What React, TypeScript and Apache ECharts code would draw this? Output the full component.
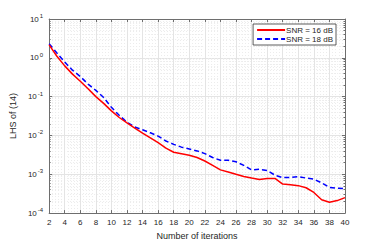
import React, { useEffect, useRef } from "react";
import * as echarts from "echarts";

const iterations = [2, 3, 4, 5, 6, 7, 8, 9, 10, 11, 12, 13, 14, 15, 16, 17, 18, 19, 20, 21, 22, 23, 24, 25, 26, 27, 28, 29, 30, 31, 32, 33, 34, 35, 36, 37, 38, 39, 40];
const snr16 = [2.15, 1.1, 0.62, 0.38, 0.25, 0.16, 0.1, 0.067, 0.043, 0.029, 0.021, 0.0155, 0.0115, 0.0087, 0.0065, 0.0047, 0.0037, 0.0034, 0.0031, 0.0027, 0.0022, 0.0017, 0.0013, 0.00115, 0.001, 0.00088, 0.0008, 0.00073, 0.00078, 0.00078, 0.00056, 0.00054, 0.00051, 0.00045, 0.00034, 0.00022, 0.00019, 0.00021, 0.00025];
const snr18 = [2.3, 1.33, 0.78, 0.48, 0.33, 0.21, 0.145, 0.095, 0.053, 0.033, 0.022, 0.0165, 0.014, 0.0117, 0.0096, 0.0072, 0.0059, 0.005, 0.0045, 0.004, 0.0034, 0.0027, 0.0023, 0.0023, 0.0021, 0.0017, 0.0013, 0.00135, 0.00125, 0.00095, 0.00082, 0.00083, 0.00087, 0.0008, 0.00075, 0.0006, 0.00046, 0.00044, 0.00043];
const seriesNames = ["SNR = 16 dB", "SNR = 18 dB"];
const xLabel = "Number of iterations";
const yLabel = "LHS of (14)";

const FONT = "'Liberation Sans', Arial, sans-serif";
const TEXT = "#262626";
const AXIS = "#6e6e6e";
const GRID = "#e4e4e4";

export default function App() {
  const ref = useRef<HTMLDivElement>(null);
  useEffect(() => {
    if (!ref.current) return;
    const chart = echarts.init(ref.current, null, { renderer: "svg" });
    const xCommon = {
      type: "value" as const,
      min: 2,
      max: 40,
      interval: 2,
      axisLine: { show: true, onZero: false, lineStyle: { color: AXIS, width: 1 } },
      axisTick: { show: true, inside: true, length: 3, lineStyle: { color: AXIS } },
    };
    const yCommon = {
      type: "log" as const,
      logBase: 10,
      min: 1e-4,
      max: 10,
      axisLine: { show: true, lineStyle: { color: AXIS, width: 1 } },
      axisTick: { show: true, inside: true, length: 3, lineStyle: { color: AXIS } },
      minorTick: { show: true, splitNumber: 9, length: 1.5, lineStyle: { color: AXIS } },
    };
    chart.setOption({
      animation: false,
      textStyle: { fontFamily: FONT },
      grid: { left: 49, top: 19, right: 37, bottom: 27, containLabel: false },
      legend: {
        orient: "vertical",
        right: 46,
        top: 24,
        itemWidth: 28,
        itemHeight: 8,
        itemGap: 1,
        padding: [2, 3, 2, 3],
        borderColor: "#333",
        borderWidth: 0.8,
        backgroundColor: "#fff",
        itemStyle: { opacity: 0 },
        textStyle: { fontSize: 8, color: TEXT, fontFamily: FONT, padding: [0, 0, 0, -4] },
        data: seriesNames,
      },
      xAxis: [
        {
          ...xCommon,
          position: "bottom",
          name: xLabel,
          nameLocation: "middle",
          nameGap: 15,
          nameTextStyle: { fontSize: 9, color: TEXT, fontFamily: FONT },
          axisLabel: { fontSize: 8, color: TEXT, margin: 5, fontFamily: FONT },
          splitLine: { show: true, lineStyle: { color: GRID, width: 1 } },
          minorTick: { show: false, splitNumber: 5 },
          minorSplitLine: { show: true, lineStyle: { color: "#ececec", width: 1, type: [1, 2] } },
        },
        { ...xCommon, position: "top", axisLabel: { show: false }, splitLine: { show: false } },
      ],
      yAxis: [
        {
          ...yCommon,
          position: "left",
          name: yLabel,
          nameLocation: "middle",
          nameGap: 21,
          nameTextStyle: { fontSize: 9, color: TEXT, fontFamily: FONT },
          axisLabel: {
            margin: 6,
            color: TEXT,
            formatter: (v: number) => `{b|10}{e|${Math.round(Math.log10(v))}}`,
            rich: {
              b: { fontSize: 8, color: TEXT, fontFamily: FONT },
              e: { fontSize: 6, color: TEXT, fontFamily: FONT, padding: [0, 0, 6, 1] },
            },
          },
          splitLine: { show: true, lineStyle: { color: GRID, width: 1 } },
          minorSplitLine: { show: true, lineStyle: { color: "#ececec", width: 1, type: [1, 2] } },
        },
        { ...yCommon, position: "right", axisLabel: { show: false }, splitLine: { show: false } },
      ],
      series: [
        {
          name: seriesNames[0],
          type: "line",
          data: iterations.map((x, i) => [x, snr16[i]]),
          symbol: "none",
          lineStyle: { color: "#ff0000", width: 1.5 },
          itemStyle: { color: "#ff0000" },
          z: 3,
        },
        {
          name: seriesNames[1],
          type: "line",
          data: iterations.map((x, i) => [x, snr18[i]]),
          symbol: "none",
          lineStyle: { color: "#0000ff", width: 1.5, type: [5, 3] },
          itemStyle: { color: "#0000ff" },
          z: 2,
        },
      ],
    });
    return () => chart.dispose();
  }, []);
  return (
    <div
      ref={ref}
      style={{ position: "fixed", left: 0, top: 0, width: 382, height: 245, background: "#fff" }}
    />
  );
}
